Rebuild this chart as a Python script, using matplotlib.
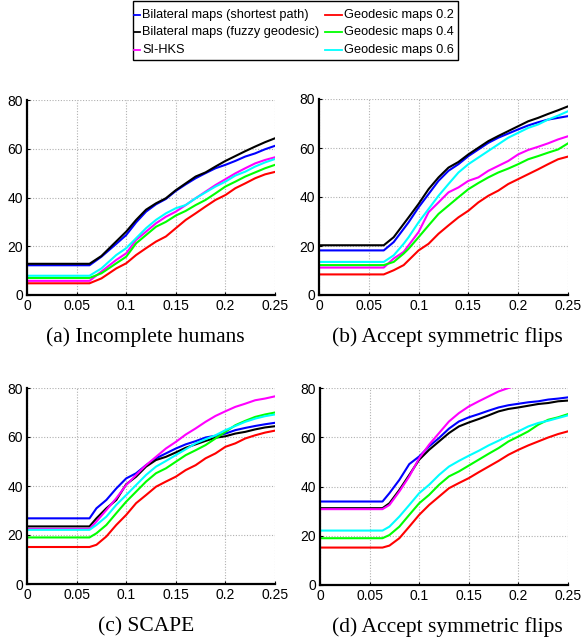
import matplotlib
matplotlib.use("Agg")
import matplotlib.pyplot as plt
from matplotlib.lines import Line2D
from matplotlib.patches import Rectangle

# ---------------- data ----------------
SERIES = ["Bilateral maps (shortest path)", "Bilateral maps (fuzzy geodesic)", "SI-HKS",
          "Geodesic maps 0.2", "Geodesic maps 0.4", "Geodesic maps 0.6"]
COLORS = ["#0000ff", "#000000", "#ff00ff", "#ff0000", "#00ff00", "#00ffff"]
CAPTIONS = ["(a) Incomplete humans", "(b) Accept symmetric flips",
            "(c) SCAPE", "(d) Accept symmetric flips"]
X_TICKS = [0, 0.05, 0.1, 0.15, 0.2, 0.25]
X_TICKLABELS = ["0", "0.05", "0.1", "0.15", "0.2", "0.25"]
Y_TICKS = [0, 20, 40, 60, 80]

TAIL = [0.10, 0.11, 0.12, 0.13, 0.14, 0.15, 0.16, 0.17, 0.18, 0.19,
        0.20, 0.21, 0.22, 0.23, 0.24, 0.25]

# (a) Incomplete humans
X_A = [0, 0.063, 0.075, 0.09] + TAIL
A_BLUE    = [12.2, 12.2, 15.7, 21.0, 24.6, 29.8, 34.2, 37.2, 39.4, 42.7, 45.4, 47.9, 50.0, 52.0, 53.4, 55.0, 56.8, 58.1, 59.8, 61.2]
A_BLACK   = [12.8, 12.8, 16.0, 22.0, 26.0, 30.8, 35.0, 37.6, 39.7, 43.0, 45.8, 48.6, 50.3, 52.7, 55.0, 57.0, 59.0, 60.9, 62.7, 64.3]
A_MAGENTA = [5.8, 5.8, 9.6, 14.4, 17.1, 22.6, 26.0, 29.4, 32.1, 34.2, 36.9, 39.7, 42.4, 45.1, 47.5, 49.9, 52.0, 54.0, 55.4, 56.5]
A_RED     = [4.8, 4.8, 6.8, 10.9, 13.0, 16.4, 19.2, 21.9, 24.0, 27.4, 30.8, 33.5, 36.3, 39.0, 41.0, 43.8, 45.8, 47.9, 49.5, 50.5]
A_GREEN   = [7.0, 7.0, 8.9, 13.0, 15.7, 21.2, 24.6, 28.0, 30.0, 32.6, 34.5, 36.9, 39.0, 41.7, 44.5, 46.5, 48.6, 50.3, 52.0, 53.4]
A_CYAN    = [7.9, 7.9, 10.9, 16.4, 19.2, 23.3, 27.4, 30.8, 33.5, 35.6, 36.9, 39.7, 42.1, 44.5, 46.5, 49.0, 50.6, 52.7, 54.4, 55.8]

# (b) Accept symmetric flips
X_B = [0, 0.065, 0.075, 0.085, 0.09] + TAIL
B_BLUE    = [18.2, 18.2, 21.6, 27.0, 29.7, 35.8, 41.2, 46.6, 50.7, 53.4, 56.7, 59.4, 62.1, 64.2, 65.9, 67.6, 69.2, 70.5, 71.6, 72.3, 73.0]
B_BLACK   = [20.3, 20.3, 23.6, 29.0, 31.7, 37.2, 43.2, 48.0, 52.0, 54.3, 57.4, 60.1, 62.8, 64.9, 66.9, 68.9, 70.9, 72.3, 73.9, 75.4, 77.0]
B_MAGENTA = [11.2, 11.2, 14.9, 17.6, 20.3, 25.7, 33.8, 37.8, 41.9, 43.9, 46.6, 48.0, 50.7, 52.7, 54.7, 57.4, 59.2, 60.5, 61.9, 63.5, 64.8]
B_RED     = [8.4, 8.4, 10.1, 12.2, 14.2, 18.2, 20.9, 25.0, 28.4, 31.7, 34.4, 37.8, 40.5, 42.6, 45.3, 47.3, 49.3, 51.3, 53.4, 55.4, 56.5]
B_GREEN   = [12.2, 12.2, 13.5, 16.9, 18.9, 23.6, 28.4, 33.1, 36.5, 39.9, 43.2, 45.7, 48.0, 50.0, 51.6, 53.4, 55.4, 56.7, 58.1, 59.4, 61.9]
B_CYAN    = [13.5, 13.5, 16.2, 20.9, 23.6, 29.7, 35.1, 40.5, 45.3, 50.0, 53.4, 56.1, 58.8, 61.5, 64.2, 66.2, 68.2, 69.6, 71.6, 73.2, 75.0]

# (c) SCAPE
X_C = [0, 0.063, 0.07, 0.08, 0.09] + TAIL
C_BLUE    = [26.8, 26.8, 30.9, 34.3, 39.0, 43.1, 45.2, 48.5, 51.3, 53.3, 55.3, 57.0, 58.3, 59.8, 60.5, 61.4, 62.8, 63.7, 64.5, 65.2, 65.8]
C_BLACK   = [23.5, 23.5, 26.8, 30.9, 34.3, 40.7, 43.8, 47.9, 50.6, 51.9, 53.7, 55.6, 57.0, 58.4, 59.7, 60.3, 61.4, 62.1, 63.1, 63.9, 64.4]
C_MAGENTA = [22.5, 22.5, 25.5, 30.2, 35.0, 40.4, 44.5, 48.5, 51.9, 55.3, 58.0, 61.0, 63.5, 66.2, 68.6, 70.5, 72.3, 73.6, 75.0, 75.7, 76.6]
C_RED     = [15.1, 15.1, 16.0, 19.4, 24.1, 28.2, 33.0, 36.3, 39.7, 41.8, 43.8, 46.5, 48.5, 51.3, 53.3, 56.0, 57.4, 59.4, 60.7, 61.8, 62.6]
C_GREEN   = [19.0, 19.0, 20.7, 24.1, 28.9, 33.6, 37.7, 41.8, 45.2, 47.2, 49.9, 52.6, 54.6, 56.7, 59.4, 62.1, 64.8, 66.6, 68.2, 69.2, 70.0]
C_CYAN    = [22.1, 22.1, 24.1, 27.5, 32.3, 36.3, 40.4, 44.5, 47.9, 50.2, 52.6, 55.0, 57.4, 59.1, 60.7, 62.8, 64.5, 66.2, 67.5, 68.5, 69.2]

# (d) Accept symmetric flips
X_D = [0, 0.063, 0.07, 0.08, 0.09] + TAIL
D_BLUE    = [33.9, 33.9, 37.3, 42.7, 49.1, 52.2, 56.3, 59.7, 63.5, 66.4, 68.1, 69.4, 70.8, 72.1, 73.0, 73.6, 74.2, 74.6, 75.3, 75.7, 76.2]
D_BLACK   = [31.2, 31.2, 33.2, 38.6, 44.7, 50.9, 54.9, 58.3, 61.7, 64.4, 66.0, 67.4, 68.9, 70.5, 71.5, 72.1, 72.8, 73.5, 73.9, 74.6, 74.9]
D_MAGENTA = [30.8, 30.8, 32.5, 38.0, 44.1, 51.5, 57.0, 61.7, 66.4, 69.8, 72.5, 74.6, 76.6, 78.6, 80.0, 81.3, 82.5, 83.6, 84.6, 85.5, 86.3]
D_RED     = [15.2, 15.2, 16.0, 19.0, 23.7, 28.5, 32.5, 35.9, 39.3, 41.4, 43.4, 45.8, 48.1, 50.4, 52.9, 54.9, 56.7, 58.3, 59.9, 61.3, 62.4]
D_GREEN   = [19.0, 19.0, 20.3, 23.7, 28.5, 33.2, 36.6, 40.7, 44.1, 46.1, 48.5, 50.9, 53.3, 55.6, 58.3, 60.3, 62.4, 65.1, 67.1, 68.1, 69.4]
D_CYAN    = [22.1, 22.1, 23.7, 27.8, 32.5, 37.3, 40.7, 44.7, 48.1, 50.4, 52.5, 54.5, 56.7, 58.6, 60.6, 62.4, 64.4, 65.8, 66.7, 67.8, 68.9]

PANELS = [
    (X_A, [A_BLUE, A_BLACK, A_MAGENTA, A_RED, A_GREEN, A_CYAN]),
    (X_B, [B_BLUE, B_BLACK, B_MAGENTA, B_RED, B_GREEN, B_CYAN]),
    (X_C, [C_BLUE, C_BLACK, C_MAGENTA, C_RED, C_GREEN, C_CYAN]),
    (X_D, [D_BLUE, D_BLACK, D_MAGENTA, D_RED, D_GREEN, D_CYAN]),
]

# ---------------- figure ----------------
W, H = 584, 641
fig = plt.figure(figsize=(W / 100, H / 100), dpi=100)

# axes rectangles in pixels: (left, top, right, bottom)
rects = [(27, 100, 275, 295), (319, 99, 568, 295),
         (27, 388, 275, 584), (320, 388, 568, 585)]
cap_pos = [(145, 337), (447, 337), (146, 627), (447, 627)]

for i, ((xs, ys_list), (l, t, r, b)) in enumerate(zip(PANELS, rects)):
    ax = fig.add_axes([l / W, 1 - b / H, (r - l) / W, (b - t) / H])
    for ys, c in zip(ys_list, COLORS):
        ax.plot(xs, ys, color=c, lw=1.5, solid_joinstyle="round")
    ax.set_xlim(0, 0.25)
    ax.set_ylim(0, 80)
    ax.set_xticks(X_TICKS)
    ax.set_xticklabels(X_TICKLABELS)
    ax.set_yticks(Y_TICKS)
    ax.grid(True, color="#b0b0b0", linestyle=(0, (1, 1.5)), linewidth=0.8)
    ax.set_axisbelow(True)
    for s in ("top", "right"):
        ax.spines[s].set_visible(False)
    for s in ("left", "bottom"):
        ax.spines[s].set_linewidth(1.6)
        ax.spines[s].set_color("black")
    ax.tick_params(direction="in", length=2, width=0.8, labelsize=10, pad=3)
    for lab in ax.get_xticklabels() + ax.get_yticklabels():
        lab.set_family("Liberation Sans")
    cx, cy = cap_pos[i]
    fig.text(cx / W, 1 - cy / H, CAPTIONS[i], ha="center", va="center",
             family="Liberation Serif", fontsize=15.5)

# ---------------- legend (drawn in figure pixels) ----------------
fig.add_artist(Rectangle((133 / W, 1 - 60 / H), (458 - 133) / W, 59 / H,
                         transform=fig.transFigure, fill=False,
                         edgecolor="black", linewidth=1.0))
row_y = [15, 32, 50]
col_line = [(134, 140), (325, 342)]
col_text = [142, 344]
for k, (name, c) in enumerate(zip(SERIES, COLORS)):
    col, row = divmod(k, 3)
    y = 1 - row_y[row] / H
    x0, x1 = col_line[col]
    fig.add_artist(Line2D([x0 / W, x1 / W], [y, y], transform=fig.transFigure,
                          color=c, lw=1.3))
    fig.text(col_text[col] / W, y, name, ha="left", va="center",
             family="Liberation Sans", fontsize=9.2)

fig.savefig("out.png", dpi=100)
